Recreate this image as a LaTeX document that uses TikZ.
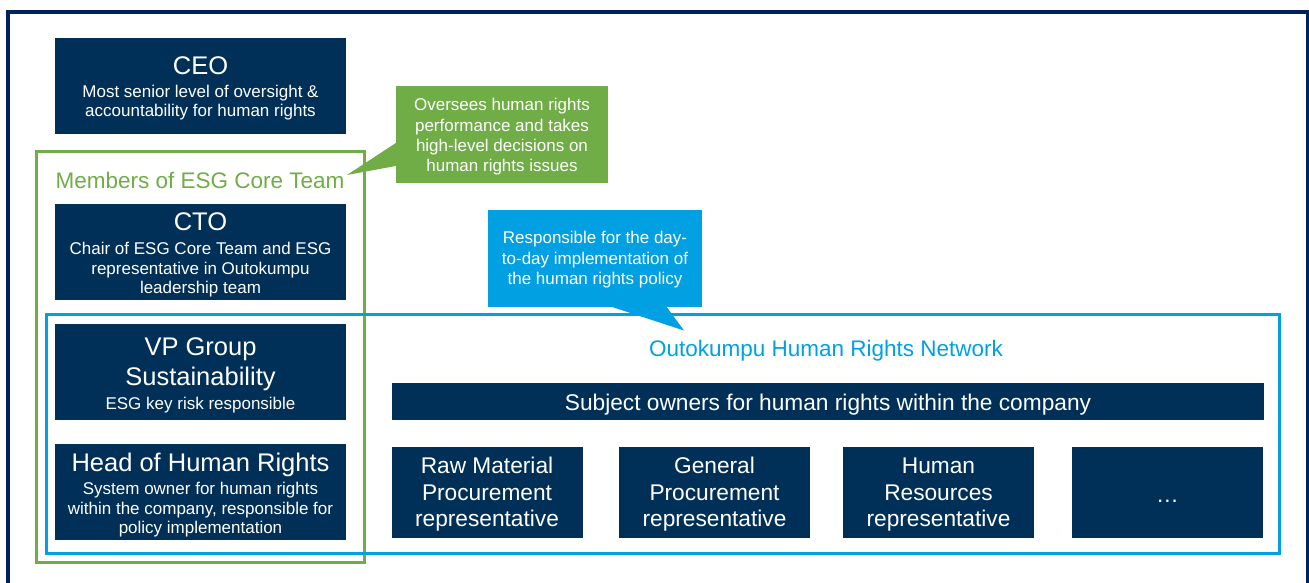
\documentclass[tikz,border=0pt]{standalone}
\usepackage{fontspec}
\setmainfont{Liberation Sans}
\usetikzlibrary{positioning}

\definecolor{navy}{RGB}{0,48,87}
\definecolor{framenavy}{RGB}{0,32,96}
\definecolor{esggreen}{RGB}{112,173,71}
\definecolor{netblue}{RGB}{0,160,227}

\newcommand{\boxtitle}{\fontsize{25.5}{29}\selectfont}
\newcommand{\boxtext}{\fontsize{17}{19.5}\selectfont}
\newcommand{\reptext}{\fontsize{22.7}{26.5}\selectfont}
% invisible strut, pushes a text block down inside its box
\newcommand{\lift}[1]{\rule{0pt}{#1}}

\tikzstyle{box} = [rectangle, fill=navy, text=white, inner sep=0pt, align=center, minimum width=291pt, minimum height=96pt, font=\boxtext]
\tikzstyle{repbox} = [rectangle, fill=navy, text=white, inner sep=0pt, align=center, minimum width=191pt, minimum height=91pt, font=\reptext]
\tikzstyle{callout} = [rectangle, text=white, inner sep=0pt, align=center, minimum height=97pt, font=\fontsize{17}{20.4}\selectfont]
\tikzstyle{frame} = [line width=3pt]

\begin{document}
\begin{tikzpicture}[x=1pt, y=-1pt]
        \useasboundingbox (0,0) rectangle (1309,583);
        \clip (0,0) rectangle (1309,583);

        \draw[framenavy, line width=3.5pt] (8,12) rectangle (1307.5,640);

        % left column
        \node (CEO) [box] at (200.5,86) {{\boxtitle\lift{22.5pt}CEO}\\[3.5pt] Most senior level of oversight \&\\ accountability for human rights};
        \node (CTO) [box] at (200.5,252) {{\boxtitle\lift{24.5pt}CTO}\\[4.5pt] Chair of ESG Core Team and ESG\\ representative in Outokumpu\\ leadership team};
        \node (VP) [box] at (200.5,372) {{\boxtitle\lift{24.5pt}VP Group}\\[5pt] {\boxtitle Sustainability}\\[4pt] ESG key risk responsible};
        \node (HHR) [box] at (200.5,492) {{\boxtitle\lift{25pt}Head of Human Rights}\\[4pt] System owner for human rights\\ within the company, responsible for\\ policy implementation};

        % ESG core team
        \draw[frame, esggreen] (36.5,152) rectangle (364.5,562);
        \node (ESG) [text=esggreen, font=\fontsize{22.5}{26}\selectfont] at (200,180) {Members of ESG Core Team};

        \node (GC) [callout, fill=esggreen, minimum width=212pt] at (502,134.5) {\lift{17pt}Oversees human rights\\ performance and takes\\ high-level decisions on\\ human rights issues};
        \coordinate (GCtip) at (347,175);
        \fill[esggreen] ([yshift=-8.5pt]GC.west) -- (GCtip) -- ([yshift=-31.5pt]GC.west) -- cycle;

        % human rights network
        \draw[frame, netblue] (46,314) rectangle (1279,553);
        \node (HRN) [text=netblue, font=\fontsize{22.5}{26}\selectfont] at (826,351) {Outokumpu Human Rights Network};

        \node (BC) [callout, fill=netblue, minimum width=214pt] at (595,258.5) {\lift{15pt}Responsible for the day-\\ to-day implementation of\\ the human rights policy};
        \coordinate (BCtip) at (684,330.5);
        \fill[netblue] ([xshift=125pt]BC.south west) -- (BCtip) -- ([xshift=179pt]BC.south west) -- cycle;

        \node (SO) [rectangle, fill=navy, text=white, minimum width=872pt, minimum height=37pt, inner sep=0pt, font=\reptext] at (828,401.5) {\lift{21.8pt}Subject owners for human rights within the company};

        \node (RM) [repbox] at (487,492.5) {\lift{20.5pt}Raw Material\\ Procurement\\ representative};
        \node (GP) [repbox] at (714.5,492.5) {\lift{20.5pt}General\\ Procurement\\ representative};
        \node (HR) [repbox] at (938.5,492.5) {\lift{20.5pt}Human\\ Resources\\ representative};
        \node (MORE) [repbox] at (1167.5,492.5) {\lift{20.5pt}…};

    \end{tikzpicture}
\end{document}
